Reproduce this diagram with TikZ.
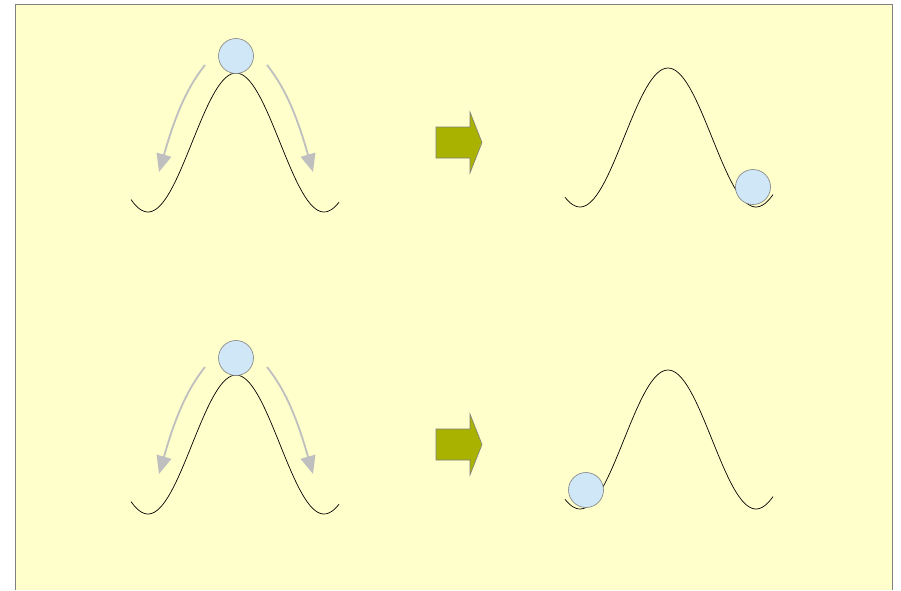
\documentclass[tikz,border=0pt]{standalone}
\usepackage{tikz}
\usetikzlibrary{arrows.meta}

\definecolor{paper}{RGB}{255,255,204}
\definecolor{rim}{RGB}{128,128,128}
\definecolor{ballfill}{RGB}{207,231,247}
\definecolor{slidegray}{RGB}{191,191,191}
\definecolor{pushgreen}{RGB}{170,178,0}

\begin{document}
\begin{tikzpicture}[x=1pt,y=-1pt,
    ball/.style={circle, draw=rim, fill=ballfill, line width=0.6pt, minimum size=35pt, inner sep=0pt},
    bump/.style={black, line width=0.7pt},
    slide/.style={slidegray, line width=1.8pt, -{Triangle[width=15pt,length=18pt]}},
    push/.style={draw=rim, fill=pushgreen, line width=0.6pt}]
    \useasboundingbox (0,0) rectangle (901,590);
    % the sheet
    \fill[paper] (15.5,4.5) rectangle (892.5,590);
    \draw[rim, line width=1pt] (15.5,590) -- (15.5,4.5) -- (892.5,4.5) -- (892.5,590);
    % two rows: ball on top of the hill, then ball in one of the valleys
    \foreach \dy/\bx/\by [count=\i] in {0/753/187, 302/586/490} {
      % hills: y = c - a cos(...), period 176
      \draw[bump] plot[domain=131:339, samples=80]
        (\x, {142.5+\dy-69.5*cos(2.04545*(\x-236))});
      \draw[bump] plot[domain=565:773, samples=80]
        (\x, {137.5+\dy-69.5*cos(2.04545*(\x-668))});
      \node[ball] (top\i) at (236,{56+\dy}) {};
      \node[ball] (rest\i) at (\bx,\by) {};
      % sliding arrows
      \coordinate (ls\i) at (205,{65+\dy});
      \coordinate (le\i) at (159,{172+\dy});
      \coordinate (rs\i) at (267,{65+\dy});
      \coordinate (re\i) at (313,{172+\dy});
      \draw[slide] (ls\i) .. controls (185,{90+\dy}) and (174,{120+\dy}) .. (le\i);
      \draw[slide] (rs\i) .. controls (287,{90+\dy}) and (298,{120+\dy}) .. (re\i);
      % block arrow
      \draw[push] (436,{127+\dy}) -- (470,{127+\dy}) -- (470,{112+\dy}) -- (482,{142.5+\dy})
        -- (470,{173+\dy}) -- (470,{158+\dy}) -- (436,{158+\dy}) -- cycle;
    }
\end{tikzpicture}
\end{document}
